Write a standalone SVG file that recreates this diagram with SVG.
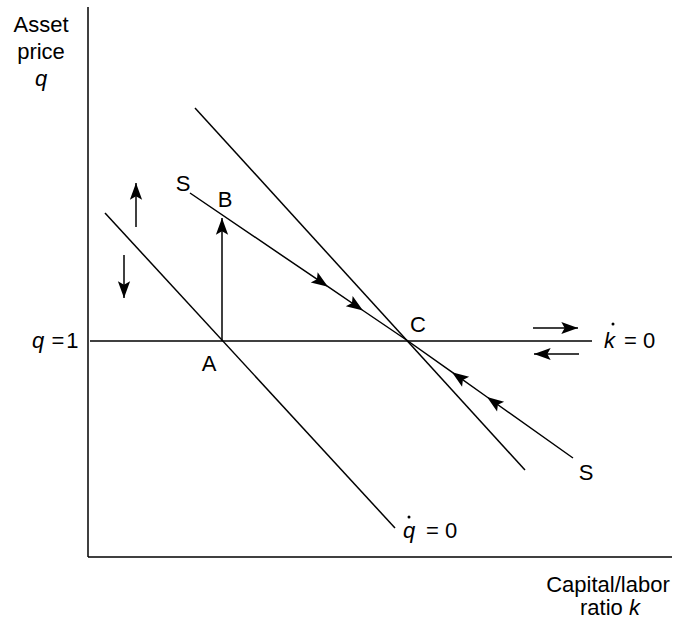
<svg xmlns="http://www.w3.org/2000/svg" width="675" height="623" viewBox="0 0 675 623">
  <style>
    .ln { stroke: #000; stroke-width: 1.5; fill: none; }
    .t { font-family: "Liberation Sans", Arial, Helvetica, sans-serif; font-size: 22px; fill: #000; }
    .i { font-style: italic; }
    .m { text-anchor: middle; }
  </style>
  <defs>
    <marker id="ah" markerUnits="userSpaceOnUse" markerWidth="20" markerHeight="20" viewBox="-16 -8 18 16" refX="0" refY="0" orient="auto">
      <path d="M0,0 L-15,-5.5 L-12,0 L-15,5.5 Z" fill="#000"/>
    </marker>
  </defs>
  <rect width="675" height="623" fill="#fff"/>

  <g id="axes">
    <line class="ln" x1="88" y1="7" x2="88" y2="557"/>
    <line class="ln" x1="88" y1="557" x2="672" y2="557"/>
  </g>

  <g id="axis-labels">
    <text class="t m" x="41" y="32">Asset</text>
    <text class="t m" x="41" y="59">price</text>
    <text class="t m i" x="41" y="86">q</text>
    <text class="t m" x="608" y="592">Capital/labor</text>
    <text class="t m" x="610" y="615">ratio <tspan class="i">k</tspan></text>
    <text class="t" x="32" y="348"><tspan class="i">q</tspan> <tspan dx="1">=</tspan><tspan dx="2">1</tspan></text>
  </g>

  <g id="connectors">
    <line class="ln" x1="90" y1="341" x2="592" y2="341"/>
    <line class="ln" x1="105" y1="213" x2="395" y2="528"/>
    <line class="ln" x1="195" y1="108" x2="525" y2="470"/>
    <polyline class="ln" points="190,193 328,286.7 363,310.5 408,341" marker-mid="url(#ah)"/>
    <polyline class="ln" points="573,458 487,397 452,372.2 408,341" marker-mid="url(#ah)"/>
    <line class="ln" x1="222" y1="341" x2="222" y2="218" marker-end="url(#ah)"/>
    <line class="ln" x1="136" y1="227" x2="136" y2="183" marker-end="url(#ah)"/>
    <line class="ln" x1="124" y1="255" x2="124" y2="298" marker-end="url(#ah)"/>
    <line class="ln" x1="533" y1="328" x2="578" y2="328" marker-end="url(#ah)"/>
    <line class="ln" x1="579" y1="354" x2="534" y2="354" marker-end="url(#ah)"/>
  </g>

  <g id="node-A"><text class="t m" x="209" y="371">A</text></g>
  <g id="node-B"><text class="t m" x="225" y="207">B</text></g>
  <g id="node-C"><text class="t m" x="418" y="332">C</text></g>
  <g id="node-S1"><text class="t m" x="183" y="191">S</text></g>
  <g id="node-S2"><text class="t m" x="586" y="480">S</text></g>

  <g id="label-kdot">
    <text class="t i" x="604" y="348">k</text>
    <circle cx="613" cy="324" r="1.5" fill="#000"/>
    <text class="t" x="624" y="348">= 0</text>
  </g>
  <g id="label-qdot">
    <text class="t i" x="403" y="538">q</text>
    <circle cx="409" cy="517" r="1.5" fill="#000"/>
    <text class="t" x="426" y="538">= 0</text>
  </g>
</svg>
